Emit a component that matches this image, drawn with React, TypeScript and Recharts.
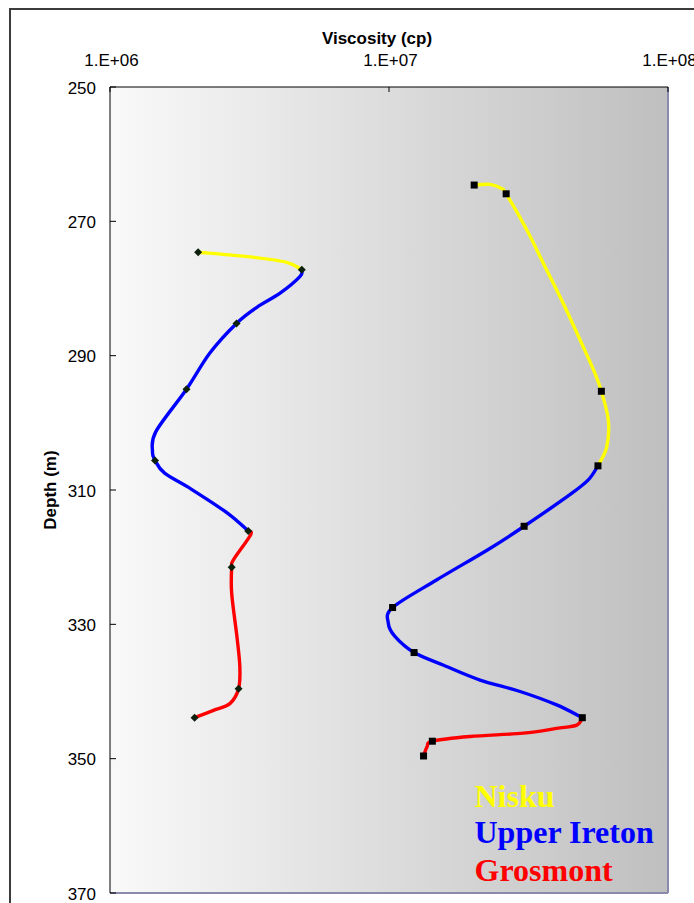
import React from 'react';
import { ScatterChart, Scatter, XAxis, YAxis, CartesianGrid, ReferenceLine, Legend } from 'recharts';

type Pt = { v: number; d: number };

// ---- Left profile (diamond markers) ----
const leftMarkers: Pt[] = [
  { v: 2.07e6, d: 274.6 }, { v: 4.87e6, d: 277.2 }, { v: 2.84e6, d: 285.2 },
  { v: 1.88e6, d: 295.0 }, { v: 1.45e6, d: 305.6 }, { v: 3.13e6, d: 316.1 },
  { v: 2.73e6, d: 321.5 }, { v: 2.89e6, d: 339.6 }, { v: 2.01e6, d: 343.9 },
];
const leftNiskuLine: Pt[] = [
  { v: 2.07e6, d: 274.6 }, { v: 3.18e6, d: 275.3 }, { v: 4.3e6, d: 276.1 }, { v: 4.87e6, d: 277.2 },
];
const leftIretonLine: Pt[] = [
  { v: 4.87e6, d: 277.2 }, { v: 4.8e6, d: 278.2 }, { v: 4.07e6, d: 280.7 }, { v: 3.36e6, d: 282.8 },
  { v: 2.84e6, d: 285.2 }, { v: 2.28e6, d: 289.6 }, { v: 1.88e6, d: 295.0 }, { v: 1.46e6, d: 301.3 },
  { v: 1.42e6, d: 304.3 }, { v: 1.45e6, d: 305.6 }, { v: 1.57e6, d: 307.5 }, { v: 1.96e6, d: 309.9 },
  { v: 2.65e6, d: 313.5 }, { v: 3.13e6, d: 316.1 },
];
const leftGrosmontLine: Pt[] = [
  { v: 3.13e6, d: 316.1 }, { v: 3.19e6, d: 316.7 }, { v: 2.77e6, d: 320.4 }, { v: 2.73e6, d: 321.5 },
  { v: 2.73e6, d: 325.4 }, { v: 2.85e6, d: 331.8 }, { v: 2.92e6, d: 336.3 }, { v: 2.89e6, d: 339.6 },
  { v: 2.69e6, d: 341.8 }, { v: 2.35e6, d: 342.8 }, { v: 2.01e6, d: 343.9 },
];

// ---- Right profile (square markers) ----
const rightMarkers: Pt[] = [
  { v: 2.02e7, d: 264.6 }, { v: 2.63e7, d: 265.9 }, { v: 5.77e7, d: 295.3 }, { v: 5.61e7, d: 306.4 },
  { v: 3.05e7, d: 315.4 }, { v: 1.03e7, d: 327.5 }, { v: 1.23e7, d: 334.2 }, { v: 4.93e7, d: 343.9 },
  { v: 1.43e7, d: 347.4 }, { v: 1.33e7, d: 349.6 },
];
const rightNiskuLine: Pt[] = [
  { v: 2.02e7, d: 264.6 }, { v: 2.3e7, d: 264.5 }, { v: 2.53e7, d: 265.1 }, { v: 2.63e7, d: 265.9 },
  { v: 3.12e7, d: 271.3 }, { v: 3.57e7, d: 276.2 }, { v: 4.21e7, d: 282.2 }, { v: 4.97e7, d: 288.7 },
  { v: 5.47e7, d: 292.6 }, { v: 5.77e7, d: 295.3 }, { v: 6.11e7, d: 299.6 }, { v: 6.03e7, d: 303.6 },
  { v: 5.61e7, d: 306.4 },
];
const rightIretonLine: Pt[] = [
  { v: 5.61e7, d: 306.4 }, { v: 5.18e7, d: 308.5 }, { v: 4.45e7, d: 310.7 }, { v: 3.05e7, d: 315.4 },
  { v: 2.3e7, d: 318.7 }, { v: 1.48e7, d: 323.4 }, { v: 1.03e7, d: 327.5 }, { v: 9.94e6, d: 329.8 },
  { v: 1.05e7, d: 331.8 }, { v: 1.23e7, d: 334.2 }, { v: 1.57e7, d: 336.1 }, { v: 2.12e7, d: 338.3 },
  { v: 2.95e7, d: 340.0 }, { v: 3.99e7, d: 342.0 }, { v: 4.93e7, d: 343.9 },
];
const rightGrosmontLine: Pt[] = [
  { v: 4.93e7, d: 343.9 }, { v: 4.71e7, d: 345.0 }, { v: 3.99e7, d: 345.5 }, { v: 3.03e7, d: 346.2 },
  { v: 1.95e7, d: 346.7 }, { v: 1.43e7, d: 347.4 }, { v: 1.37e7, d: 348.2 }, { v: 1.33e7, d: 349.6 },
];

// ---- Axes / legend text ----
const xTicks = [1e6, 1e7, 1e8];
const xTickLabels = ['1.E+06', '1.E+07', '1.E+08'];
const yTicks = [250, 270, 290, 310, 330, 350, 370];
const legendNames = ['Nisku', 'Upper Ireton', 'Grosmont'];
const legendColors = ['#FFFF00', '#0000FF', '#FF0000'];

const SANS = '"Liberation Sans", Arial, sans-serif';
const SERIF = '"Liberation Serif", "Times New Roman", serif';
const legendLineTops = [5.2, 40.7, 78.5];

// Smooth (Catmull-Rom style) curve factory for the profile lines
const smoothCurve: any = (context: any) => {
  let pts: number[][] = [];
  return {
    areaStart() {},
    areaEnd() {},
    lineStart() {
      pts = [];
    },
    point(x: number, y: number) {
      pts.push([+x, +y]);
    },
    lineEnd() {
      const n = pts.length;
      if (!n) return;
      context.moveTo(pts[0][0], pts[0][1]);
      for (let i = 0; i < n - 1; i++) {
        const p0 = pts[Math.max(i - 1, 0)];
        const p1 = pts[i];
        const p2 = pts[i + 1];
        const p3 = pts[Math.min(i + 2, n - 1)];
        context.bezierCurveTo(
          p1[0] + (p2[0] - p0[0]) / 6,
          p1[1] + (p2[1] - p0[1]) / 6,
          p2[0] - (p3[0] - p1[0]) / 6,
          p2[1] - (p3[1] - p1[1]) / 6,
          p2[0],
          p2[1]
        );
      }
    },
  };
};

const noShape = () => <g />;
const diamondShape = (p: any) => (
  <polygon
    points={`${p.cx},${p.cy - 4} ${p.cx + 4},${p.cy} ${p.cx},${p.cy + 4} ${p.cx - 4},${p.cy}`}
    fill="#0c200c"
  />
);
const squareShape = (p: any) => <rect x={p.cx - 3.5} y={p.cy - 3.5} width={7} height={7} fill="#000" />;

const XTick = (props: any) => {
  const { x, y, index } = props;
  return (
    <g>
      <text x={x + 1.5} y={y} textAnchor="middle" fill="#000" style={{ fontFamily: SANS, fontSize: 17 }}>
        {xTickLabels[index]}
      </text>
      <line x1={x} x2={x} y1={y + 21} y2={y + 26} stroke="#000" strokeWidth={1} />
    </g>
  );
};

const YTick = (props: any) => {
  const { x, y, payload } = props;
  return (
    <g>
      <text x={x} y={y + 6.5} textAnchor="end" fill="#000" style={{ fontFamily: SANS, fontSize: 17 }}>
        {payload.value}
      </text>
      <line x1={x + 14} x2={x + 20} y1={y} y2={y} stroke="#000" strokeWidth={1} />
    </g>
  );
};

const renderTitle = (props: any) => {
  const vb = props.viewBox;
  return (
    <text
      x={vb.x + vb.width / 2 - 12}
      y={vb.y - 13}
      textAnchor="middle"
      fill="#000"
      style={{ fontFamily: SANS, fontSize: 17, fontWeight: 700 }}
    >
      Viscosity (cp)
    </text>
  );
};

const renderDepthLabel = (props: any) => {
  const vb = props.viewBox;
  const bx = vb.x + 5.5;
  const cy = vb.y + vb.height / 2;
  return (
    <text
      x={bx}
      y={cy}
      transform={`rotate(-90, ${bx}, ${cy})`}
      textAnchor="middle"
      fill="#000"
      style={{ fontFamily: SANS, fontSize: 17, fontWeight: 700 }}
    >
      Depth (m)
    </text>
  );
};

const renderLegend = () => (
  <div style={{ position: 'relative', width: '100%', height: '100%' }}>
    {legendNames.map((name, i) => (
      <div
        key={name}
        style={{
          position: 'absolute',
          left: 4.5,
          top: legendLineTops[i],
          whiteSpace: 'nowrap',
          fontFamily: SERIF,
          fontWeight: 700,
          fontSize: 32,
          lineHeight: '32px',
          height: 32,
          color: legendColors[i],
        }}
      >
        {name}
      </div>
    ))}
  </div>
);

const lineSeries = [
  { key: 'lN', data: leftNiskuLine, color: legendColors[0] },
  { key: 'lI', data: leftIretonLine, color: legendColors[1] },
  { key: 'lG', data: leftGrosmontLine, color: legendColors[2] },
  { key: 'rN', data: rightNiskuLine, color: legendColors[0] },
  { key: 'rI', data: rightIretonLine, color: legendColors[1] },
  { key: 'rG', data: rightGrosmontLine, color: legendColors[2] },
];

export default function App() {
  return (
    <div style={{ position: 'absolute', left: 0, top: 0, width: 694, height: 903, overflow: 'hidden', background: '#fff' }}>
      <div
        style={{
          position: 'absolute',
          left: 9,
          top: 8,
          width: 1000,
          height: 1000,
          borderLeft: '2px solid #3c3c3c',
          borderTop: '2px solid #3c3c3c',
        }}
      />
      <div style={{ position: 'absolute', left: 0, top: 0 }}>
        <ScatterChart width={694} height={903} margin={{ top: 57, right: 26, bottom: 10, left: 50 }}>
          <defs>
            <linearGradient id="plotBg" x1="0" y1="0" x2="1" y2="0">
              <stop offset="0%" stopColor="#f9f9f9" />
              <stop offset="100%" stopColor="#bfbfbf" />
            </linearGradient>
          </defs>
          <CartesianGrid horizontal={false} vertical={false} fill="url(#plotBg)" fillOpacity={1} />
          <XAxis
            dataKey="v"
            type="number"
            scale="log"
            domain={[1e6, 1e8]}
            allowDataOverflow
            orientation="top"
            ticks={xTicks}
            interval={0}
            height={30}
            tickSize={0}
            tickMargin={21}
            tickLine={false}
            axisLine={{ stroke: '#000', strokeWidth: 1 }}
            tick={XTick}
            label={{ content: renderTitle }}
          />
          <YAxis
            dataKey="d"
            type="number"
            domain={[250, 370]}
            allowDataOverflow
            reversed
            ticks={yTicks}
            interval={0}
            width={60}
            tickSize={0}
            tickMargin={14}
            tickLine={false}
            axisLine={{ stroke: '#000', strokeWidth: 1 }}
            tick={YTick}
            label={{ content: renderDepthLabel }}
          />
          <ReferenceLine y={370} stroke="#8a8aac" strokeWidth={2} />
          <ReferenceLine x={1e8} stroke="#8a8aac" strokeWidth={2} />
          {lineSeries.map((s) => (
            <Scatter
              key={s.key}
              data={s.data}
              line={{ stroke: s.color, strokeWidth: 3.4, fill: 'none' }}
              lineType="joint"
              lineJointType={smoothCurve}
              shape={noShape}
              isAnimationActive={false}
              legendType="none"
            />
          ))}
          <Scatter data={leftMarkers} shape={diamondShape} isAnimationActive={false} legendType="none" />
          <Scatter data={rightMarkers} shape={squareShape} isAnimationActive={false} legendType="none" />
          <Legend
            layout="vertical"
            align="center"
            verticalAlign="middle"
            content={renderLegend}
            wrapperStyle={{ left: 470, top: 775, width: 224, height: 128 }}
          />
        </ScatterChart>
      </div>
    </div>
  );
}
